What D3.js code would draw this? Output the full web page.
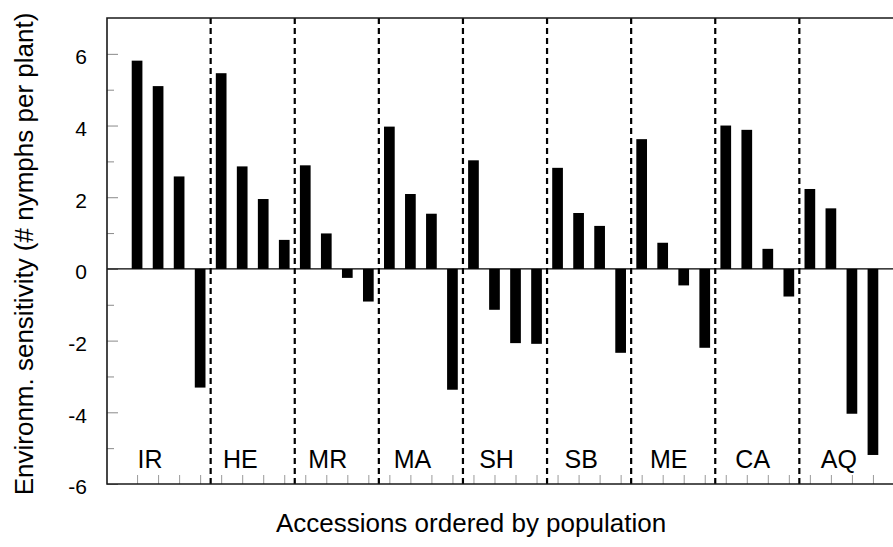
<!DOCTYPE html>
<html>
<head>
<meta charset="utf-8">
<script src="https://cdn.jsdelivr.net/npm/d3@7"></script>
<style>
  body { margin: 0; background: #fff; }
  svg { display: block; font-family: "Liberation Sans", Arial, sans-serif; }
</style>
</head>
<body>
<svg id="chart" width="893" height="547"></svg>
<script>
// populations, left to right, four accessions each
const populations = ["IR", "HE", "MR", "MA", "SH", "SB", "ME", "CA", "AQ"];

// environmental sensitivity per accession
const sensIR = [5.81, 5.10, 2.58, -3.31];
const sensHE = [5.46, 2.86, 1.95, 0.81];
const sensMR = [2.89, 0.99, -0.25, -0.91];
const sensMA = [3.97, 2.09, 1.54, -3.37];
const sensSH = [3.03, -1.14, -2.07, -2.09];
const sensSB = [2.82, 1.56, 1.20, -2.34];
const sensME = [3.62, 0.73, -0.46, -2.20];
const sensCA = [4.00, 3.88, 0.56, -0.77];
const sensAQ = [2.23, 1.69, -4.04, -5.19];

const yMajorTicks = [-6, -4, -2, 0, 2, 4, 6];
const yMinorTicks = [-5, -3, -1, 1, 3, 5];

const seriesByPop = [sensIR, sensHE, sensMR, sensMA, sensSH, sensSB, sensME, sensCA, sensAQ];

// flatten into one row per accession
const accessions = [];
populations.forEach((pop, g) => {
  seriesByPop[g].forEach((v, k) => {
    accessions.push({ id: pop + (k + 1), pop: pop, group: g, value: v });
  });
});

const plot = { left: 107, top: 18, bottom: 484, right: 903 };

const svg = d3.select("#chart");

const x = d3.scalePoint()
  .domain(accessions.map(d => d.id))
  .range([plot.left, plot.right])
  .padding(1.43);

const y = d3.scaleLinear()
  .domain([-6, 7])
  .range([plot.bottom, plot.top]);

const step = x.step();
const barWidth = 10.7;

// y ticks (inward)
svg.append("g")
  .attr("transform", `translate(${plot.left},0)`)
  .call(d3.axisRight(y).tickValues(yMajorTicks).tickSize(11).tickFormat(""))
  .call(g => g.select(".domain").remove())
  .call(g => g.selectAll("line").attr("stroke", "#8a8a8a").attr("stroke-width", 1));

svg.append("g")
  .attr("transform", `translate(${plot.left},0)`)
  .call(d3.axisRight(y).tickValues(yMinorTicks).tickSize(7).tickFormat(""))
  .call(g => g.select(".domain").remove())
  .call(g => g.selectAll("line").attr("stroke", "#8a8a8a").attr("stroke-width", 1));

// y tick labels
svg.append("g")
  .selectAll("text")
  .data(yMajorTicks)
  .join("text")
  .attr("x", 87)
  .attr("y", d => y(d) + 3)
  .attr("dy", "0.35em")
  .attr("text-anchor", "end")
  .style("font-size", "21px")
  .text(d => d);

// x ticks (inward, one per accession)
svg.append("g")
  .attr("transform", `translate(0,${plot.bottom})`)
  .call(d3.axisTop(x).tickSize(9).tickFormat(""))
  .call(g => g.select(".domain").remove())
  .call(g => g.selectAll("line").attr("stroke", "#9a9a9a").attr("stroke-width", 1));

// bars
svg.append("g")
  .selectAll("rect")
  .data(accessions)
  .join("rect")
  .attr("x", d => x(d.id) - barWidth / 2)
  .attr("width", barWidth)
  .attr("y", d => y(Math.max(0, d.value)))
  .attr("height", d => Math.abs(y(d.value) - y(0)))
  .attr("fill", "#000");

// zero line
svg.append("line")
  .attr("x1", plot.left).attr("x2", plot.right)
  .attr("y1", y(0)).attr("y2", y(0))
  .attr("stroke", "#000")
  .attr("stroke-width", 1.3);

// dashed separators between populations
const separators = populations.slice(1).map((p, i) => {
  const last = accessions.filter(d => d.group === i).pop();
  return x(last.id) + step / 2;
});

svg.append("g")
  .selectAll("line")
  .data(separators)
  .join("line")
  .attr("x1", d => d).attr("x2", d => d)
  .attr("y1", plot.top).attr("y2", plot.bottom)
  .attr("stroke", "#000")
  .attr("stroke-width", 2.2)
  .attr("stroke-dasharray", "6,4");

// population labels
svg.append("g")
  .selectAll("text")
  .data(populations)
  .join("text")
  .attr("x", (d, g) => x(d + "1") + 0.5 + 1.3 * g)
  .attr("y", 468)
  .style("font-size", "25px")
  .text(d => d);

// frame: left, top, bottom
svg.append("path")
  .attr("d", `M${plot.right},${plot.top}H${plot.left}V${plot.bottom}H${plot.right}`)
  .attr("fill", "none")
  .attr("stroke", "#1a1a1a")
  .attr("stroke-width", 1.6);

// axis titles
svg.append("text")
  .attr("transform", `translate(33,254) rotate(-90)`)
  .attr("text-anchor", "middle")
  .style("font-size", "26px")
  .text("Environm. sensitivity (# nymphs per plant)");

svg.append("text")
  .attr("x", 471)
  .attr("y", 532)
  .attr("text-anchor", "middle")
  .style("font-size", "26px")
  .text("Accessions ordered by population");
</script>
</body>
</html>
